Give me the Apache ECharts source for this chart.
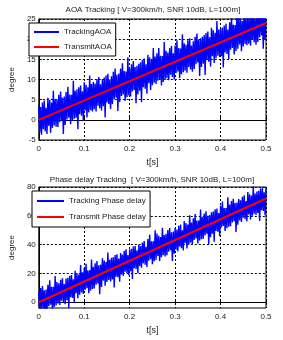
<!DOCTYPE html>
<html>
<head>
<meta charset="utf-8">
<script src="https://cdn.jsdelivr.net/npm/echarts@6/dist/echarts.min.js"></script>
<style>
  html, body { margin: 0; padding: 0; background: #fff; }
  #chart { width: 283px; height: 340px; }
</style>
</head>
<body>
<div id="chart"></div>
<script>
// sample spacing of the tracking signals (s)
const tStep = 0.002;

// AOA tracking (degree)
const aoaTrack = [
  3.6, -3.2, 3.2, -3.7, 4.3, -2.3, 4.8, -2.9, 3.0, -3.5,
  5.5, -1.5, 4.9, -3.2, 4.3, -2.0, 7.2, -1.4, 5.1, -1.7,
  5.1, -1.8, 6.2, -0.6, 7.0, -0.2, 5.5, -3.5, 5.8, -1.3,
  6.9, 0.1, 8.2, 0.5, 6.3, -1.1, 6.2, -0.2, 9.7, 0.3,
  7.2, 0.5, 7.6, -2.3, 8.1, 1.4, 8.5, 1.0, 7.1, -0.2,
  9.3, 2.3, 8.7, 0.6, 8.1, 1.8, 11.0, 2.4, 8.9, 2.1,
  9.4, 2.6, 9.0, 2.1, 10.1, 3.5, 10.6, 2.9, 8.8, 2.3,
  10.1, 3.4, 10.5, 0.6, 11.0, 4.3, 11.4, 3.9, 10.0, 2.7,
  10.8, 3.9, 11.9, 5.1, 12.7, 5.5, 11.2, 2.2, 11.5, 4.4,
  12.7, 5.9, 14.0, 6.3, 12.1, 4.7, 12.0, 5.6, 15.5, 6.1,
  12.7, 5.8, 13.8, 7.0, 14.6, 7.4, 13.1, 4.1, 13.4, 6.3,
  13.9, 7.2, 14.3, 4.4, 14.8, 8.1, 15.2, 7.7, 13.8, 6.5,
  16.1, 9.1, 15.5, 7.4, 14.9, 8.6, 17.8, 9.2, 15.7, 8.9,
  16.5, 9.7, 17.8, 10.1, 15.9, 8.5, 15.8, 9.4, 19.3, 9.9,
  17.1, 10.3, 16.7, 9.8, 17.8, 11.2, 18.3, 10.6, 16.5, 10.0,
  18.4, 11.6, 19.7, 12.0, 17.8, 10.4, 17.7, 11.3, 21.2, 11.8,
  19.0, 12.2, 18.6, 11.7, 19.7, 13.1, 20.2, 12.5, 18.4, 11.9,
  19.5, 12.6, 20.6, 13.8, 21.4, 14.2, 19.9, 10.9, 20.2, 13.1,
  20.6, 13.9, 21.0, 11.1, 21.5, 14.8, 21.9, 14.4, 20.5, 13.2,
  22.8, 15.8, 22.2, 14.1, 21.6, 15.3, 24.5, 15.9, 22.4, 15.6,
  22.5, 15.8, 22.9, 13.0, 23.4, 16.7, 23.8, 16.3, 22.4, 15.1,
  24.2, 17.4, 25.5, 17.8, 23.6, 16.2, 23.5, 17.1, 27.0, 17.6,
  25.7, 18.7, 25.1, 17.0, 24.5, 18.2, 27.4, 18.8, 25.3, 18.5,
  25.7, 18.9, 25.3, 18.4, 26.4, 19.8, 26.9, 19.2, 25.1, 18.6,
  26.2, 19.3, 27.3, 20.5, 28.1, 20.9, 26.6, 17.6, 26.9, 19.8,
  27.0
];

// phase delay tracking (degree)
const phaseTrack = [
  7.3, -7.7, 9.8, -5.2, 11.3, -4.2, 8.3, -11.7, 8.8, -6.7,
  12.2, -2.8, 15.2, -1.8, 10.7, -5.3, 10.7, -3.3, 18.2, -2.3,
  14.1, -0.9, 13.1, -1.9, 15.6, 1.1, 16.6, 0.1, 12.6, -1.4,
  16.4, 1.4, 16.9, -4.1, 18.4, 3.4, 18.9, 2.9, 15.9, -0.1,
  21.8, 6.3, 20.3, 2.8, 19.3, 5.3, 25.8, 6.8, 20.8, 5.8,
  23.7, 8.7, 26.7, 9.7, 22.2, 6.2, 22.2, 8.2, 29.7, 9.2,
  24.6, 9.6, 27.1, 12.1, 28.6, 13.1, 25.6, 5.6, 26.1, 10.6,
  30.5, 15.0, 29.0, 11.5, 28.0, 14.0, 34.5, 15.5, 29.5, 14.5,
  30.8, 15.8, 31.3, 10.3, 32.8, 17.8, 33.3, 17.3, 30.3, 14.3,
  34.2, 19.2, 33.2, 18.2, 35.7, 21.2, 36.7, 20.2, 32.7, 18.7,
  36.6, 21.6, 37.1, 16.1, 38.6, 23.6, 39.1, 23.1, 36.1, 20.1,
  40.0, 25.0, 39.0, 24.0, 41.5, 27.0, 42.5, 26.0, 38.5, 24.5,
  43.9, 28.9, 46.9, 29.9, 42.4, 26.4, 42.4, 28.4, 49.9, 29.4,
  47.7, 32.2, 46.2, 28.7, 45.2, 31.2, 51.7, 32.7, 46.7, 31.7,
  47.6, 32.6, 50.1, 35.1, 51.6, 36.1, 48.6, 28.6, 49.1, 33.6,
  51.5, 36.5, 50.5, 35.5, 53.0, 38.5, 54.0, 37.5, 50.0, 36.0,
  56.4, 40.9, 54.9, 37.4, 53.9, 39.9, 60.4, 41.4, 55.4, 40.4,
  58.3, 43.3, 61.3, 44.3, 56.8, 40.8, 56.8, 42.8, 64.3, 43.8,
  59.1, 44.1, 61.6, 46.6, 63.1, 47.6, 60.1, 40.1, 60.6, 45.1,
  62.5, 47.5, 63.0, 42.0, 64.5, 49.5, 65.0, 49.0, 62.0, 46.0,
  66.9, 51.9, 69.9, 52.9, 65.4, 49.4, 65.4, 51.4, 72.9, 52.4,
  67.8, 52.8, 70.3, 55.3, 71.8, 56.3, 68.8, 48.8, 69.3, 53.8,
  71.7, 56.7, 70.7, 55.7, 73.2, 58.7, 74.2, 57.7, 70.2, 56.2,
  76.5, 61.0, 75.0, 57.5, 74.0, 60.0, 80.5, 61.5, 75.5, 60.5,
  76.9, 61.9, 77.4, 56.4, 78.9, 63.9, 79.4, 63.4, 76.4, 60.4,
  79.0
];

// transmitted (reference) values: straight lines
const tTransmit = [0, 0.5];
const aoaTransmit = [0, 24];
const phaseTransmit = [0, 72];

const xTicks = [0, 0.1, 0.2, 0.3, 0.4, 0.5];
const phaseTicks = [0, 20, 40, 60, 80];

const FONT = 'Liberation Sans';
const TXT = '#222';

const pairs = (xs, ys) => ys.map((v, i) => [xs[i], v]);
const trackPairs = ys => ys.map((v, i) => [+(i * tStep).toFixed(4), v]);

const gridLine = { show: true, lineStyle: { color: '#000', type: [2, 2], width: 1 } };

function xAxisOf(gridIndex) {
  return {
    gridIndex,
    type: 'value',
    min: 0,
    max: 0.5,
    interval: 0.1,
    name: 't[s]',
    nameLocation: 'middle',
    nameGap: 18,
    nameTextStyle: { fontFamily: FONT, fontSize: 9, color: TXT },
    axisLine: { lineStyle: { color: '#000' } },
    axisTick: { inside: true, length: 3, lineStyle: { color: '#000' } },
    axisLabel: { fontFamily: FONT, fontSize: 8, color: TXT, margin: 5,
      formatter: v => xTicks.includes(+v.toFixed(1)) ? String(+v.toFixed(1)) : '' },
    splitLine: gridLine
  };
}

const legendBase = {
  orient: 'vertical',
  backgroundColor: '#fff', borderColor: '#000', borderWidth: 1,
  itemWidth: 27, itemHeight: 1,
  textStyle: { fontFamily: FONT, fontSize: 8, color: TXT }
};

const chart = echarts.init(document.getElementById('chart'), null, { renderer: 'canvas' });

chart.setOption({
  backgroundColor: '#fff',
  animation: false,
  title: [
    { text: 'AOA Tracking [ V=300km/h, SNR 10dB, L=100m]', left: 148, top: 1, textAlign: 'center',
      textStyle: { fontFamily: FONT, fontSize: 8, fontWeight: 'normal', color: TXT } },
    { text: 'Phase delay Tracking  [ V=300km/h, SNR 10dB, L=100m]', left: 147, top: 171, textAlign: 'center',
      textStyle: { fontFamily: FONT, fontSize: 8, fontWeight: 'normal', color: TXT } }
  ],
  grid: [
    { left: 28, right: 17, top: 19, height: 121, show: true, borderColor: '#000', borderWidth: 1, backgroundColor: '#fff' },
    { left: 28, right: 17, top: 187, height: 121, show: true, borderColor: '#000', borderWidth: 1, backgroundColor: '#fff' }
  ],
  legend: [
    Object.assign({}, legendBase, {
      data: ['TrackingAOA', 'TransmitAOA'],
      left: 29, top: 23, padding: [5, 4, 5, 4], itemGap: 7, itemWidth: 25
    }),
    Object.assign({}, legendBase, {
      data: ['Tracking Phase delay', 'Transmit Phase delay'],
      left: 32, top: 191, padding: [6, 4, 6, 4], itemGap: 8
    })
  ],
  xAxis: [xAxisOf(0), xAxisOf(1)],
  yAxis: [
    {
      gridIndex: 0, type: 'value', min: -5, max: 25, interval: 5,
      name: 'degree', nameLocation: 'middle', nameGap: 20,
      nameTextStyle: { fontFamily: FONT, fontSize: 8, color: TXT },
      axisLine: { show: true, lineStyle: { color: '#000' } },
      axisTick: { show: true, inside: true, length: 3, lineStyle: { color: '#000' } },
      axisLabel: { fontFamily: FONT, fontSize: 8, color: TXT, margin: 3 },
      splitLine: gridLine
    },
    {
      gridIndex: 1, type: 'value', min: -4, max: 80,
      name: 'degree', nameLocation: 'middle', nameGap: 20,
      nameTextStyle: { fontFamily: FONT, fontSize: 8, color: TXT },
      axisLine: { show: true, lineStyle: { color: '#000' } },
      axisTick: { show: true, inside: true, length: 3, customValues: phaseTicks, lineStyle: { color: '#000' } },
      axisLabel: { fontFamily: FONT, fontSize: 8, color: TXT, margin: 3, customValues: phaseTicks },
      splitLine: gridLine
    }
  ],
  series: [
    { name: 'TrackingAOA', type: 'line', xAxisIndex: 0, yAxisIndex: 0, symbol: 'none',
      lineStyle: { color: '#0000ff', width: 1.4 }, itemStyle: { color: '#0000ff' },
      data: trackPairs(aoaTrack) },
    { name: 'TransmitAOA', type: 'line', xAxisIndex: 0, yAxisIndex: 0, symbol: 'none',
      lineStyle: { color: '#ff0000', width: 2 }, itemStyle: { color: '#ff0000' },
      data: pairs(tTransmit, aoaTransmit) },
    { name: 'Tracking Phase delay', type: 'line', xAxisIndex: 1, yAxisIndex: 1, symbol: 'none',
      lineStyle: { color: '#0000ff', width: 1.4 }, itemStyle: { color: '#0000ff' },
      data: trackPairs(phaseTrack) },
    { name: 'Transmit Phase delay', type: 'line', xAxisIndex: 1, yAxisIndex: 1, symbol: 'none',
      lineStyle: { color: '#ff0000', width: 2 }, itemStyle: { color: '#ff0000' },
      data: pairs(tTransmit, phaseTransmit) }
  ]
});
</script>
</body>
</html>
